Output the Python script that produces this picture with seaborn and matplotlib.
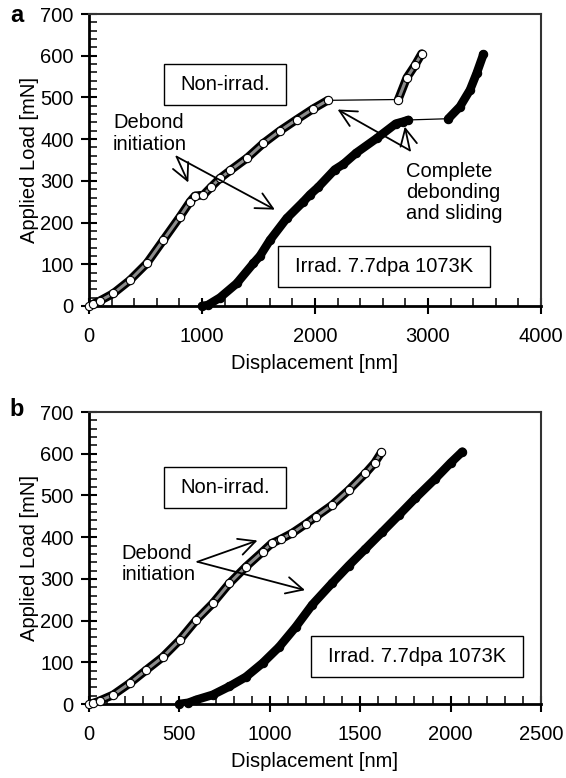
import matplotlib
matplotlib.use("Agg")

import numpy as np
import pandas as pd
import matplotlib.pyplot as plt
import seaborn as sns
from matplotlib.patches import Rectangle
from matplotlib.ticker import MultipleLocator

# ==============================
# DATA
# ==============================
# panel a - non-irradiated, open circles (before / after the sliding jump)
a_non_x = [0, 40, 100, 215, 363, 511, 658, 805, 894, 938, 1012, 1080, 1159, 1250, 1400, 1543, 1690, 1838, 1985, 2112]
a_non_y = [0, 5, 13, 30, 62, 102, 158, 214, 250, 264, 266, 285, 306, 325, 355, 390, 420, 447, 473, 493]
a_non_x2 = [2737, 2812, 2885, 2944]
a_non_y2 = [495, 547, 577, 605]

# panel a - irradiated 7.7dpa 1073K, filled circles
a_irr_x = [1000, 1050, 1159, 1307, 1454, 1513, 1602, 1749, 1897, 1956, 2029, 2175, 2251, 2365, 2546, 2715, 2781, 2826]
a_irr_y = [0, 2, 20, 54, 102, 120, 158, 210, 250, 267, 285, 327, 340, 367, 402, 437, 442, 446]
a_irr_x2 = [3180, 3283, 3372, 3431, 3490]
a_irr_y2 = [449, 478, 518, 558, 603]

# panel b - non-irradiated
b_non_x = [0, 24, 60, 134, 226, 318, 409, 501, 593, 684, 776, 868, 960, 1010, 1060, 1125, 1200, 1254, 1345, 1437, 1529, 1580, 1617]
b_non_y = [0, 2, 8, 22, 50, 82, 113, 153, 201, 241, 289, 329, 365, 385, 395, 410, 432, 449, 477, 513, 553, 578, 603]

# panel b - irradiated
b_irr_x = [500, 550, 593, 684, 776, 868, 960, 1052, 1144, 1235, 1345, 1437, 1529, 1621, 1712, 1804, 1915, 2000, 2065]
b_irr_y = [0, 3, 10, 22, 42, 65, 98, 137, 185, 238, 290, 332, 372, 412, 452, 493, 540, 578, 605]

FS = 14.5

sns.set_theme(style="ticks")
plt.rcParams["font.family"] = ["Liberation Sans", "DejaVu Sans"]
plt.rcParams["text.color"] = "black"
plt.rcParams["axes.labelcolor"] = "black"
plt.rcParams["xtick.color"] = "black"
plt.rcParams["ytick.color"] = "black"


def draw_curve(ax, segments, filled):
    xs = [v for seg in segments for v in seg[0]]
    ys = [v for seg in segments for v in seg[1]]
    df = pd.DataFrame({"x": xs, "y": ys})
    # thin line joining all points (shows across the jumps)
    sns.lineplot(data=df, x="x", y="y", sort=False, estimator=None,
                 color="black", lw=0.9, ax=ax, zorder=2)
    # dense marker chain look
    for sx, sy in segments:
        ax.plot(sx, sy, color="black", lw=6.2, solid_capstyle="round",
                solid_joinstyle="round", zorder=3)
        if not filled:
            ax.plot(sx, sy, color="#8c8c8c", lw=2.2, solid_capstyle="round",
                    solid_joinstyle="round", zorder=3)
    face = "black" if filled else "white"
    sns.scatterplot(data=df, x="x", y="y", marker="o", s=36, color=face,
                    edgecolor="black", linewidth=0.8, ax=ax, zorder=4, clip_on=False)


def style_axes(ax, xmax, xmajor, xminor):
    ax.set_xlim(0, xmax)
    ax.set_ylim(0, 700)
    ax.xaxis.set_major_locator(MultipleLocator(xmajor))
    ax.xaxis.set_minor_locator(MultipleLocator(xminor))
    ax.yaxis.set_major_locator(MultipleLocator(100))
    ax.yaxis.set_minor_locator(MultipleLocator(20))
    ax.tick_params(which="major", direction="inout", length=12, width=1.5,
                   labelsize=FS, top=False, right=False, color="black")
    ax.tick_params(which="minor", direction="in", length=6, width=1.1,
                   top=False, right=False, color="black")
    ax.tick_params(axis="x", which="major", pad=9)
    ax.tick_params(axis="y", which="major", pad=5)
    for side in ["left", "bottom"]:
        ax.spines[side].set_linewidth(2.0)
        ax.spines[side].set_color("black")
    for side in ["top", "right"]:
        ax.spines[side].set_linewidth(1.5)
        ax.spines[side].set_color("#333333")
    ax.set_xlabel("Displacement [nm]", fontsize=FS)
    ax.set_ylabel("Applied Load [mN]", fontsize=FS)
    ax.xaxis.set_label_coords(0.5, -0.165)
    ax.yaxis.set_label_coords(-0.11, 0.5)


def box_label(ax, x0, x1, y0, y1, text):
    ax.add_patch(Rectangle((x0, y0), x1 - x0, y1 - y0, facecolor="white",
                           edgecolor="black", lw=1.0, zorder=5))
    ax.text((x0 + x1) / 2, (y0 + y1) / 2, text, ha="center", va="center",
            fontsize=FS, zorder=6)


def arrow(ax, start, tip):
    ax.annotate("", xy=tip, xytext=start, zorder=7,
                arrowprops=dict(arrowstyle="->,head_length=0.6,head_width=0.3",
                                lw=1.3, color="black", mutation_scale=20,
                                shrinkA=0, shrinkB=0))


fig = plt.figure(figsize=(5.66, 7.78), dpi=100)
ax_a = fig.add_axes([0.1572, 0.6067, 0.7986, 0.3753])
ax_b = fig.add_axes([0.1572, 0.0951, 0.7986, 0.3753])

# ---------- panel a ----------
draw_curve(ax_a, [(a_irr_x, a_irr_y), (a_irr_x2, a_irr_y2)], filled=True)
draw_curve(ax_a, [(a_non_x, a_non_y), (a_non_x2, a_non_y2)], filled=False)
style_axes(ax_a, 4000, 1000, 200)
box_label(ax_a, 667, 1746, 481, 580, "Non-irrad.")
box_label(ax_a, 1673, 3545, 46, 143, "Irrad. 7.7dpa 1073K")
ax_a.text(213, 462, "Debond\ninitiation", ha="left", va="top", fontsize=FS, linespacing=1.15)
arrow(ax_a, (775, 358), (879, 296))
arrow(ax_a, (775, 358), (1645, 231))
ax_a.text(2803, 346, "Complete\ndebonding\nand sliding", ha="left", va="top",
          fontsize=FS, linespacing=1.15)
arrow(ax_a, (2840, 373), (2200, 471))
arrow(ax_a, (2840, 373), (2795, 430))

# ---------- panel b ----------
draw_curve(ax_b, [(b_irr_x, b_irr_y)], filled=True)
draw_curve(ax_b, [(b_non_x, b_non_y)], filled=False)
style_axes(ax_b, 2500, 500, 100)
box_label(ax_b, 417, 1091, 471, 568, "Non-irrad.")
box_label(ax_b, 1230, 2401, 65, 162, "Irrad. 7.7dpa 1073K")
ax_b.text(179, 384, "Debond\ninitiation", ha="left", va="top", fontsize=FS, linespacing=1.15)
arrow(ax_b, (600, 341), (932, 392))
arrow(ax_b, (600, 341), (1195, 273))

fig.text(17 / 566, 1 - 16 / 778, "a", fontsize=17, fontweight="bold", ha="center", va="center")
fig.text(17 / 566, 1 - 410 / 778, "b", fontsize=17, fontweight="bold", ha="center", va="center")

fig.savefig("out.png", dpi=100)
